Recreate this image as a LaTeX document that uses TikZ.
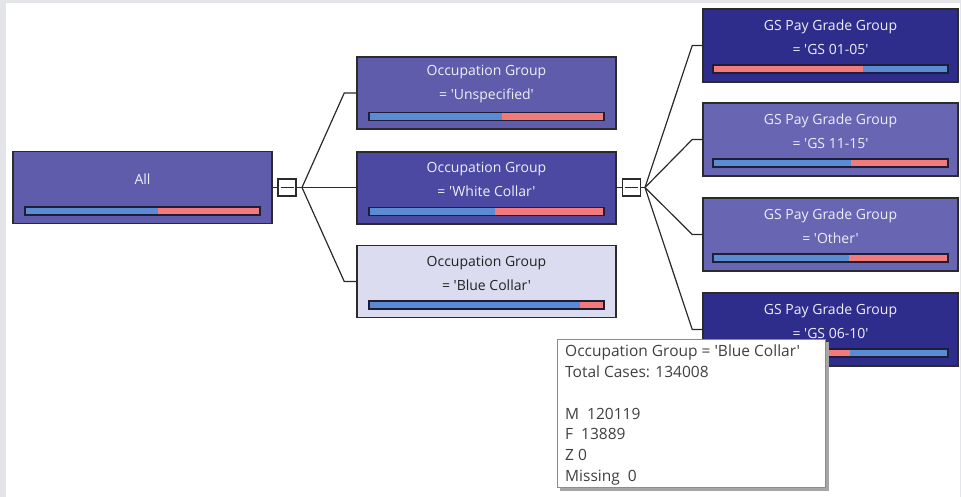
\documentclass[tikz,border=0pt]{standalone}
\usepackage{fontspec}
\newfontfamily\uif{Open Sans}[Ligatures=TeXOff]
\usetikzlibrary{calc}

\definecolor{frameGray}{HTML}{E4E5E8}
\definecolor{midPurple}{HTML}{5F5DAB}
\definecolor{deepPurple}{HTML}{4B49A2}
\definecolor{palePurple}{HTML}{DCDCF0}
\definecolor{navyBox}{HTML}{2F2D8C}
\definecolor{softPurple}{HTML}{6865B3}
\definecolor{barBlue}{HTML}{5B8BD2}
\definecolor{barRed}{HTML}{F27A7A}
\definecolor{edgeDark}{HTML}{2B2B2B}
\definecolor{barEdge}{HTML}{1E1E3A}
\definecolor{lightText}{HTML}{EEEEFA}
\definecolor{darkText}{HTML}{222222}
\definecolor{tipText}{HTML}{404040}

\tikzset{
  tbox/.style={draw=edgeDark, line width=1.5pt, rectangle, inner sep=0pt,
    minimum width=259pt, minimum height=72pt},
  boxlabel/.style={align=center, inner sep=0pt,
    font=\uif\fontsize{14}{24}\selectfont},
  baredge/.style={draw=barEdge, line width=1.4pt},
  link/.style={draw=edgeDark, line width=1.2pt},
  toggle/.style={draw=edgeDark, line width=1.2pt, fill=white, rectangle,
    inner sep=0pt, minimum width=18pt, minimum height=17pt},
}

% #1 name, #2 centre, #3 box options, #4 text colour, #5 text,
% #6 split fraction, #7 left bar colour, #8 right bar colour
\newcommand\treebox[8]{%
  \node[tbox,#3] (#1) at (#2) {};
  \node[boxlabel,text=#4] (#1-label) at ($(#1.center)+(0,-8.5)$) {#5};
  \coordinate (#1-bl) at ($(#1.center)+(-117.5,27.5)$);
  \coordinate (#1-tr) at ($(#1.center)+(117.5,19.5)$);
  \coordinate (#1-s) at ($(#1-bl)!#6!(#1-tr)$);
  \fill[#7] (#1-bl) rectangle (#1-s |- #1-tr);
  \fill[#8] (#1-s |- #1-bl) rectangle (#1-tr);
  \draw[baredge] (#1-bl) rectangle (#1-tr);
}

% toggle square with a minus sign
\newcommand\toggle[2]{%
  \node[toggle] (#1) at (#2) {};
  \draw[link] ($(#1.center)+(-6.5,0)$) -- ($(#1.center)+(6.5,0)$);
}

\begin{document}
\begin{tikzpicture}[x=1pt,y=-1pt]
  % canvas with thin grey frame
  \fill[frameGray] (0,0) rectangle (961,497);
  \fill[white] (6,3) rectangle (960,497);
  \useasboundingbox (0,0) rectangle (961,497);

  % root
  \treebox{all}{142.5,187.5}{fill=midPurple}{lightText}{All}{0.566}{barBlue}{barRed}

  % occupation level
  \treebox{unspec}{486.5,93}{fill=midPurple}{lightText}{Occupation Group\\= 'Unspecified'}{0.566}{barBlue}{barRed}
  \treebox{white}{486.5,188}{fill=deepPurple}{lightText}{Occupation Group\\= 'White Collar'}{0.536}{barBlue}{barRed}
  \treebox{blue}{486.5,281.5}{fill=palePurple}{darkText}{Occupation Group\\= 'Blue Collar'}{0.896}{barBlue}{barRed}

  % pay grade level
  \treebox{gsA}{830.5,45.5}{fill=navyBox,minimum width=255pt,minimum height=73pt}{lightText}{GS Pay Grade Group\\= 'GS 01-05'}{0.638}{barRed}{barBlue}
  \treebox{gsB}{830.5,139.5}{fill=softPurple,minimum width=255pt,minimum height=73pt}{lightText}{GS Pay Grade Group\\= 'GS 11-15'}{0.587}{barBlue}{barRed}
  \treebox{gsC}{830.5,234.5}{fill=softPurple,minimum width=255pt,minimum height=73pt}{lightText}{GS Pay Grade Group\\= 'Other'}{0.579}{barBlue}{barRed}
  \treebox{gsD}{830.5,329.5}{fill=navyBox,minimum width=255pt,minimum height=73pt}{lightText}{GS Pay Grade Group\\= 'GS 06-10'}{0.583}{barRed}{barBlue}

  % first split
  \toggle{tgA}{287,187.5}
  \coordinate (forkA) at (302,187.5);
  \draw[link] (all.east) -- (tgA.west);
  \draw[link] (tgA.east) -- (forkA);
  \draw[link] (forkA) -- ([xshift=-12pt]unspec.west) -- (unspec.west);
  \draw[link] (forkA) -- (forkA -| white.west);
  \draw[link] (forkA) -- ([xshift=-12pt]blue.west) -- (blue.west);

  % second split
  \toggle{tgB}{631.5,187.5}
  \coordinate (forkB) at (645,187.5);
  \draw[link] (white.east |- tgB) -- (tgB.west);
  \draw[link] (tgB.east) -- (forkB);
  \draw[link] (forkB) -- ([xshift=-10pt]gsA.west) -- (gsA.west);
  \draw[link] (forkB) -- ([xshift=-10pt]gsB.west) -- (gsB.west);
  \draw[link] (forkB) -- ([xshift=-10pt]gsC.west) -- (gsC.west);
  \draw[link] (forkB) -- ([xshift=-10pt]gsD.west) -- (gsD.west);

  % hover tooltip
  \fill[black!35] (560,342) rectangle (829,491);
  \node[draw=black!45, line width=1pt, fill=white, rectangle, inner sep=0pt,
        minimum width=268pt, minimum height=148pt] (tip) at (691,413) {};
  \node[anchor=north west, align=left, inner sep=0pt, text=tipText,
        font=\uif\fontsize{15.5}{20.7}\selectfont] (tip-text) at (565,345)
    {Occupation Group = 'Blue Collar'\\
     Total Cases: 134008\\[20.7pt]
     M~~120119\\
     F~~13889\\
     Z~0\\
     Missing~~0};
\end{tikzpicture}
\end{document}
